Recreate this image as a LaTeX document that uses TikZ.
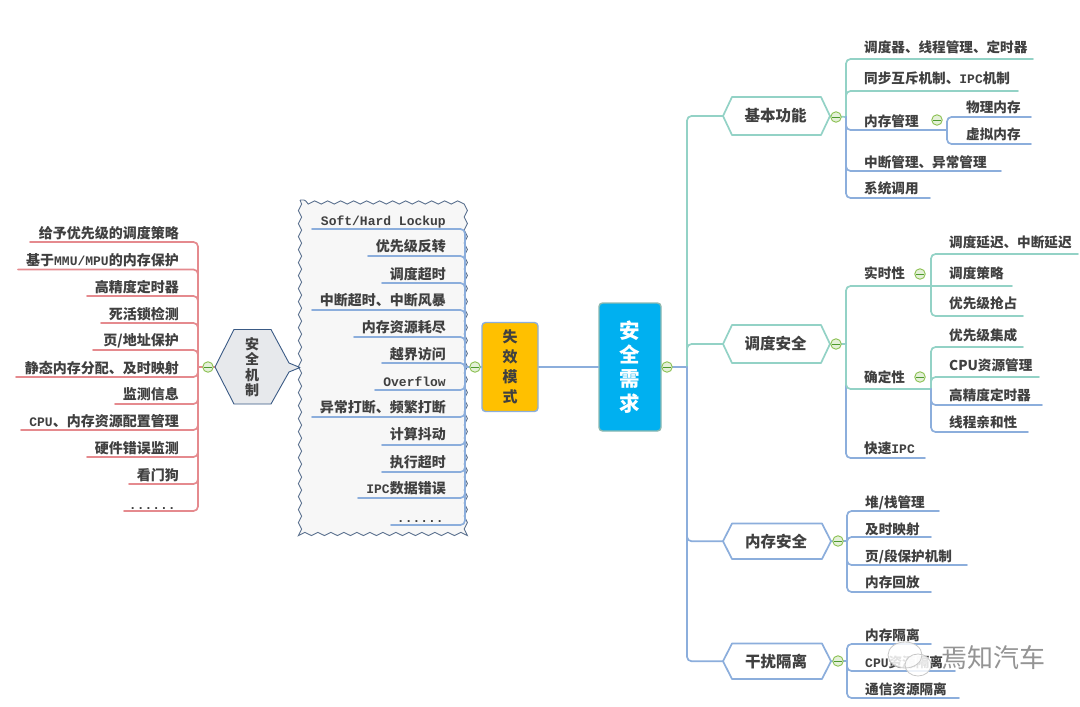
\documentclass[tikz,border=0pt]{standalone}
\usepackage{fontspec}
\setmainfont{Noto Sans CJK SC}
\newfontfamily\plaincjk{Noto Sans CJK SC}
\newfontfamily\latm{Liberation Mono}[UprightFont={Liberation Mono Bold},BoldFont={Liberation Mono Bold}]
\newcommand{\LM}[1]{{\fontsize{13}{15}\latm #1}}
\usetikzlibrary{decorations.pathmorphing,shapes.geometric}
\definecolor{teal1}{HTML}{93D2C6}
\definecolor{blue1}{HTML}{8CAEDC}
\definecolor{red1}{HTML}{E58A8E}
\definecolor{ink}{HTML}{404040}
\definecolor{gold1}{HTML}{FFC000}
\definecolor{sky1}{HTML}{00B0F0}
\definecolor{hexedge}{HTML}{3A5A85}
\definecolor{hexfill}{HTML}{E7E9EC}
\definecolor{greenedge}{HTML}{8CC152}
\definecolor{greenfill}{HTML}{E4F0D8}
\definecolor{greenbar}{HTML}{4E9A2E}
\tikzset{
  conn/.style={line width=1.7pt,rounded corners=4.5pt,line cap=round},
  lbl/.style={inner sep=0pt,text=ink,font=\bfseries\fontsize{13.6}{16}\selectfont,text height=12pt,text depth=2pt},
  lbll/.style={lbl,font=\bfseries\fontsize{14}{16}\selectfont},
  vlbl/.style={inner sep=0pt,text=ink,align=center},
  hexa/.style={line width=1.7pt,fill=white,line join=round},
  collapse/.style={circle,draw=greenedge,fill=greenfill,line width=.9pt,minimum size=10.5pt,inner sep=0pt},
  minusbar/.style={line width=.9pt,draw=greenbar},
}
\newcommand{\RL}[8]{% name, colour, hub, xend, y, tx, ty, text
  \coordinate (#1-e) at (#4,#5);
  \draw[conn,#2] (#3) |- (#1-e);
  \node[lbl,anchor=west] (#1) at (#6,#7) {#8};}
\newcommand{\LL}[8]{%
  \coordinate (#1-e) at (#4,#5);
  \draw[conn,#2] (#3) |- (#1-e);
  \node[lbll,anchor=east] (#1) at (#6,#7) {#8};}
\newcommand{\CO}[3]{%
  \node[collapse] (#1) at (#2,#3) {};
  \draw[minusbar] ([xshift=1.8pt]#1.west) -- ([xshift=-1.8pt]#1.east);}
\newcommand{\HX}[7]{% name, colour, xl, xr, ytop, ybot, text
  \coordinate (#1-w) at (#3,{(#5+#6)/2});
  \coordinate (#1-o) at (#4,{(#5+#6)/2});
  \draw[hexa,draw=#2] (#1-w) -- (#3+9,#5) -- (#4-9,#5) -- (#1-o) -- (#4-9,#6) -- (#3+9,#6) -- cycle;
  \node[inner sep=0pt,text=ink,font=\bfseries\fontsize{15.5}{18}\selectfont] (#1) at ({(#3+#4)/2-1},{(#5+#6)/2}) {#7};}
\begin{document}
\begin{tikzpicture}[x=1pt,y=-1pt]
\useasboundingbox (0,0) rectangle (1080,707);
\fill[white] (0,0) rectangle (1080,707);

% wavy box
\draw[draw=black!35!blue1,fill=black!3,line width=.9pt,decorate,decoration={snake,segment length=13pt,amplitude=1.6pt}]
  (300,200) rectangle (466,534);

% hubs
\coordinate (Lh) at (198,367);
\coordinate (Bh) at (465,367);
\coordinate (Mh) at (687,367);
\coordinate (A1) at (846,117);
\coordinate (A2) at (846,344);
\coordinate (A3) at (847,541);
\coordinate (A4) at (847,661);
\coordinate (Mm) at (947,130);
\coordinate (Rt) at (931,286);
\coordinate (Dt) at (931,389);

% left list
\LL{l1}{red1}{Lh}{30}{242}{179}{233}{给予优先级的调度策略}
\LL{l2}{red1}{Lh}{18}{269.5}{179}{260}{基于\LM{MMU/MPU}的内存保护}
\LL{l3}{red1}{Lh}{87}{296}{179}{287}{高精度定时器}
\LL{l4}{red1}{Lh}{101}{323}{179}{314}{死活锁检测}
\LL{l5}{red1}{Lh}{93}{350}{179}{340}{页/地址保护}
\LL{l6}{red1}{Lh}{16}{377}{179}{368}{静态内存分配、及时映射}
\LL{l7}{red1}{Lh}{115}{404}{179}{394}{监测信息}
\LL{l8}{red1}{Lh}{21}{430}{179}{421}{\LM{CPU}、内存资源配置管理}
\LL{l9}{red1}{Lh}{87}{457}{179}{448}{硬件错误监测}
\LL{l10}{red1}{Lh}{129}{484}{179}{475}{看门狗}
\LL{l11}{red1}{Lh}{124}{511}{176}{504}{\LM{......}}

% safety mechanism hexagon
\coordinate (sjw) at (215,367);
\draw[conn,red1] (Lh) -- (sjw);
\draw[line width=.9pt,draw=hexedge,fill=hexfill,line join=round]
  (sjw) -- (234,329.5) -- (271,329.5) -- (289,363) -- (300,367.5) -- (289,372) -- (271,404) -- (234,404) -- cycle;
\node[vlbl,font=\bfseries\fontsize{14}{15.4}\selectfont] (sj) at (252,367) {安\\全\\机\\制};
\CO{c1}{208}{367}

% failure list
\LL{b1}{blue1}{Bh}{312}{229}{446}{220}{\LM{Soft/Hard Lockup}}
\LL{b2}{blue1}{Bh}{368}{256}{446}{246}{优先级反转}
\LL{b3}{blue1}{Bh}{382}{283}{446}{274}{调度超时}
\LL{b4}{blue1}{Bh}{312}{310}{446}{300}{中断超时、中断风暴}
\LL{b5}{blue1}{Bh}{354}{337}{446}{327}{内存资源耗尽}
\LL{b6}{blue1}{Bh}{382}{363}{446}{354}{越界访问}
\LL{b7}{blue1}{Bh}{375}{390}{446}{381}{\LM{Overflow}}
\LL{b8}{blue1}{Bh}{312}{417}{446}{407}{异常打断、频繁打断}
\LL{b9}{blue1}{Bh}{382}{445}{446}{434}{计算抖动}
\LL{b10}{blue1}{Bh}{382}{472}{446}{462}{执行超时}
\LL{b11}{blue1}{Bh}{358}{498}{446}{488}{\LM{IPC}数据错误}
\LL{b12}{blue1}{Bh}{391}{525}{444}{517}{\LM{......}}

% central boxes
\node[draw=blue1,fill=gold1,line width=1.4pt,rounded corners=3.5pt,minimum width=56pt,minimum height=89pt,inner sep=0pt] (fm) at (510,367) {};
\node[vlbl,font=\bfseries\fontsize{15}{20}\selectfont] (fmt) at (510,367) {失\\效\\模\\式};
\draw[conn,blue1] (Bh) -- (fm.west);
\node[draw=teal1!70!gray,fill=sky1,line width=1.4pt,rounded corners=3.5pt,minimum width=62pt,minimum height=128pt,inner sep=0pt] (req) at (630,367) {};
\node[vlbl,text=white,font=\bfseries\fontsize{20.5}{24.2}\selectfont] (reqt) at (630,367) {安\\全\\需\\求};
\draw[conn,blue1] (fm.east) -- (req.west);
\draw[conn,blue1] (req.east) -- (Mh);
\CO{c2}{475}{367}
\CO{c3}{667}{367}

% spine to level 1
\coordinate (h1-w) at (723,116);
\coordinate (h2-w) at (723,344);
\coordinate (h3-w) at (723,541.25);
\coordinate (h4-w) at (723,661.25);
\draw[conn,teal1] (Mh) |- (h1-w);
\draw[conn,teal1] (Mh) |- (h2-w);
\draw[conn,blue1] (Mh) |- (h3-w);
\draw[conn,blue1] (Mh) |- (h4-w);

% level 1 hexagons
\HX{h1}{teal1}{723}{830}{97}{135}{基本功能}
\HX{h2}{teal1}{723}{830}{325}{363}{调度安全}
\HX{h3}{blue1}{723}{831}{523.5}{559}{内存安全}
\HX{h4}{blue1}{723}{831}{643.5}{679}{干扰隔离}
\draw[conn,teal1] (h1-o) -- (A1);
\draw[conn,teal1] (h2-o) -- (A2);
\draw[conn,blue1] (h3-o) -- (A3);
\draw[conn,blue1] (h4-o) -- (A4);

% basic functions
\RL{a1}{teal1}{A1}{1033}{59}{864}{47}{调度器、线程管理、定时器}
\RL{a2}{teal1}{A1}{1018}{91}{864}{78}{同步互斥机制、\LM{IPC}机制}
\RL{a3}{blue1}{A1}{947}{130}{864}{121}{内存管理}
\RL{a4}{blue1}{A1}{1001}{171}{864}{162}{中断管理、异常管理}
\RL{a5}{blue1}{A1}{930}{198}{864}{188}{系统调用}
\RL{a6}{blue1}{Mm}{1031}{117}{966}{107}{物理内存}
\RL{a7}{blue1}{Mm}{1031}{144}{966}{134}{虚拟内存}
\CO{c4}{836}{117}
\CO{c5}{937}{120}

% scheduling safety
\RL{s1}{teal1}{A2}{931}{286}{864}{273}{实时性}
\RL{s2}{teal1}{Rt}{1078}{254}{949}{242}{调度延迟、中断延迟}
\node[lbl,anchor=west] (s3) at (949,273) {调度策略};
\coordinate (s3-e) at (1012,286);
\draw[conn,teal1] (Rt) -- (s3-e);
\RL{s4}{teal1}{Rt}{1023}{316}{949}{303}{优先级抢占}
\RL{s9}{blue1}{A2}{925}{458}{864}{448}{快速\LM{IPC}}
\RL{s5}{teal1}{A2}{931}{389}{864}{377}{确定性}
\RL{s6}{teal1}{Dt}{1023}{347}{949}{335}{优先级集成}
\RL{s7}{teal1}{Dt}{1039}{377}{949}{365}{CPU资源管理}
\RL{s8}{blue1}{Dt}{1042}{405}{949}{395}{高精度定时器}
\RL{s10}{blue1}{Dt}{1028}{432}{949}{422}{线程亲和性}
\CO{c6}{836}{344}
\CO{c7}{920}{274}
\CO{c8}{920}{377}

% memory safety
\RL{m1}{blue1}{A3}{939}{511}{865}{502}{堆/栈管理}
\RL{m2}{blue1}{A3}{931}{537}{865}{529}{及时映射}
\RL{m3}{blue1}{A3}{967}{565}{865}{556}{页/段保护机制}
\RL{m4}{blue1}{A3}{931}{592}{865}{582}{内存回放}
\CO{c9}{838}{541}

% interference isolation
\RL{i1}{blue1}{A4}{931}{644}{865}{635}{内存隔离}
\RL{i2}{blue1}{A4}{955}{671}{865}{662}{\LM{CPU}资源隔离}
\RL{i3}{blue1}{A4}{959}{698}{865}{689}{通信资源隔离}
\CO{c10}{838}{661}

% watermark
\fill[white,opacity=.85] (905,655) ellipse (17pt and 13pt);
\fill[white,opacity=.85] (918,665) ellipse (13pt and 11pt);
\draw[black!22,line width=.8pt] (905,655) ellipse (17pt and 13pt);
\draw[black!22,line width=.8pt] (918,665) ellipse (13pt and 11pt);
\node[inner sep=0pt,text=black!42] (wm) at (993,658) {\plaincjk\fontsize{26}{28}\selectfont 焉知汽车};
\end{tikzpicture}
\end{document}
